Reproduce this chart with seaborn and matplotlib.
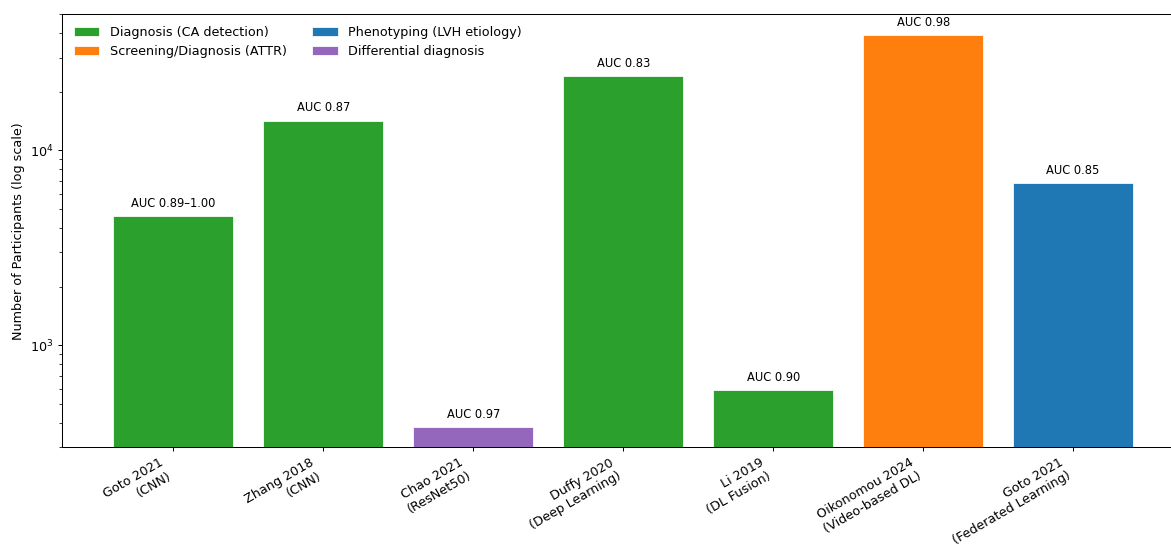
import matplotlib
matplotlib.use("Agg")
import matplotlib.pyplot as plt
import pandas as pd
import seaborn as sns

# Studies, cohort sizes and reported AUCs
studies = [
    "Goto 2021\n(CNN)",
    "Zhang 2018\n(CNN)",
    "Chao 2021\n(ResNet50)",
    "Duffy 2020\n(Deep Learning)",
    "Li 2019\n(DL Fusion)",
    "Oikonomou 2024\n(Video-based DL)",
    "Goto 2021\n(Federated Learning)",
]
participants = [4600, 14200, 380, 24000, 590, 39000, 6800]
auc_labels = ["AUC 0.89–1.00", "AUC 0.87", "AUC 0.97", "AUC 0.83",
              "AUC 0.90", "AUC 0.98", "AUC 0.85"]
tasks = [
    "Diagnosis (CA detection)",
    "Diagnosis (CA detection)",
    "Differential diagnosis",
    "Diagnosis (CA detection)",
    "Diagnosis (CA detection)",
    "Screening/Diagnosis (ATTR)",
    "Phenotyping (LVH etiology)",
]
task_order = [
    "Diagnosis (CA detection)",
    "Screening/Diagnosis (ATTR)",
    "Phenotyping (LVH etiology)",
    "Differential diagnosis",
]
task_colors = {
    "Diagnosis (CA detection)": "#2ca02c",
    "Screening/Diagnosis (ATTR)": "#ff7f0e",
    "Phenotyping (LVH etiology)": "#1f77b4",
    "Differential diagnosis": "#9467bd",
}

df = pd.DataFrame({"study": studies, "n": participants, "task": tasks})

DPI = 92
fig = plt.figure(figsize=(1171 / DPI, 545 / DPI), dpi=DPI)
ax = fig.add_axes([0.0532, 0.1793, 0.958, 0.7945])

sns.barplot(
    data=df, x="study", y="n", hue="task", hue_order=task_order,
    palette=task_colors, dodge=False, saturation=1, width=0.8,
    errorbar=None, edgecolor="white", linewidth=0.6, ax=ax,
)

ax.set_yscale("log")
ax.set_ylim(300, 50000)
ax.set_xlim(-0.74, 6.74)

for i, (n, lab) in enumerate(zip(participants, auc_labels)):
    ax.annotate(lab, xy=(i, n), xytext=(0, 5), textcoords="offset points",
                ha="center", va="bottom", fontsize=9)

ax.set_xlabel("")
ax.set_ylabel("Number of Participants (log scale)", fontsize=10)
plt.setp(ax.get_xticklabels(), rotation=30, ha="right")

handles, labels = ax.get_legend_handles_labels()
ax.legend(handles, labels, ncol=2, frameon=False, loc="upper left", fontsize=10)

fig.savefig("out.png", dpi=DPI)
